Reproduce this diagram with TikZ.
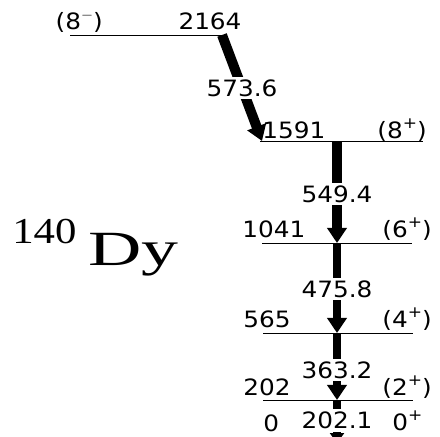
\documentclass[tikz,border=0pt]{standalone}
\usepackage{fontspec}
\setmainfont{DejaVu Sans}[FakeStretch=1.1]
\newfontfamily\massfont{Liberation Serif}[FakeStretch=1.17]
\newfontfamily\dyfont{Liberation Serif}[FakeStretch=1.5]
\usetikzlibrary{arrows.meta, positioning}
\newcommand\parity[1]{\raisebox{0.42em}{\fontsize{11}{11}\selectfont#1}}

\begin{document}
\begin{tikzpicture}[x=0.025cm, y=-0.025cm,
        lev/.style={line width=0.6pt},
        lab/.style={inner sep=0pt, font=\fontsize{16}{16}\selectfont},
        glab/.style={fill=white, inner sep=2pt, font=\fontsize{16}{16}\selectfont},
        gam/.style={line width=#1, -{Triangle[length=0.38cm, width=0.48cm]}}]
        \useasboundingbox (0,0) rectangle (440,436);

        % level ends
        \coordinate (a2164) at (70,35);   \coordinate (b2164) at (225,35);
        \coordinate (a1591) at (260,141); \coordinate (b1591) at (423,141);
        \coordinate (a1041) at (262,243); \coordinate (b1041) at (412,243);
        \coordinate (a565) at (263,333);  \coordinate (b565) at (413,333);
        \coordinate (a202) at (263,400);  \coordinate (b202) at (413,400);

        % levels
        \draw[lev] (a2164) -- (b2164);
        \draw[lev] (a1591) -- (b1591);
        \draw[lev] (a1041) -- (b1041);
        \draw[lev] (a565) -- (b565);
        \draw[lev] (a202) -- (b202);

        % energies and spins
        \node[lab, anchor=base east] (s2164) at (103,29) {(8\parity{$-$})};
        \node[lab, anchor=base] (e2164) at (210,29) {2164};
        \node[lab, anchor=base west] (e1591) at (262,138) {1591};
        \node[lab, anchor=base east] (s1591) at (427,138) {(8\parity{+})};
        \node[lab, anchor=base west] (e1041) at (242,237) {1041};
        \node[lab, anchor=base east] (s1041) at (432,237) {(6\parity{+})};
        \node[lab, anchor=base west] (e565) at (243,327) {565};
        \node[lab, anchor=base east] (s565) at (432,327) {(4\parity{+})};
        \node[lab, anchor=base west] (e202) at (243,395) {202};
        \node[lab, anchor=base east] (s202) at (432,395) {(2\parity{+})};
        \node[lab, anchor=base west] (e0) at (263,431) {0};
        \node[lab, anchor=base west] (s0) at (392,430) {0\parity{+}};

        % gamma rays
        \coordinate (g2164) at (222,35);
        \coordinate (g1591) at (262,141);
        \coordinate (t1591) at (337,141);
        \coordinate (g1041) at (337,243);
        \coordinate (g565) at (337,333);
        \coordinate (g202) at (337,400);
        \coordinate (g0) at (337,443);
        \draw[gam=0.25cm] (g2164) -- node[glab, pos=0.5] (l573) {573.6} (g1591);
        \draw[gam=0.25cm] (t1591) -- node[glab, pos=0.52] (l549) {549.4} (g1041);
        \draw[gam=0.21cm] (g1041) -- node[glab, pos=0.51] (l475) {475.8} (g565);
        \draw[gam=0.2cm] (g565) -- node[glab, pos=0.55] (l363) {363.2} (g202);
        \draw[line width=0.2cm, -{Triangle[length=0.25cm, width=0.35cm]}] (g202) -- node[glab, pos=0.47] (l202) {202.1} (g0);

        % nucleus
        \node[inner sep=0pt, anchor=base west, font=\massfont\fontsize{26}{26}\selectfont] (mass) at (12,243) {140};
        \node[inner sep=0pt, anchor=base west, font=\dyfont\fontsize{35}{35}\selectfont] (nuc) at (88,265) {Dy};
    \end{tikzpicture}
\end{document}
